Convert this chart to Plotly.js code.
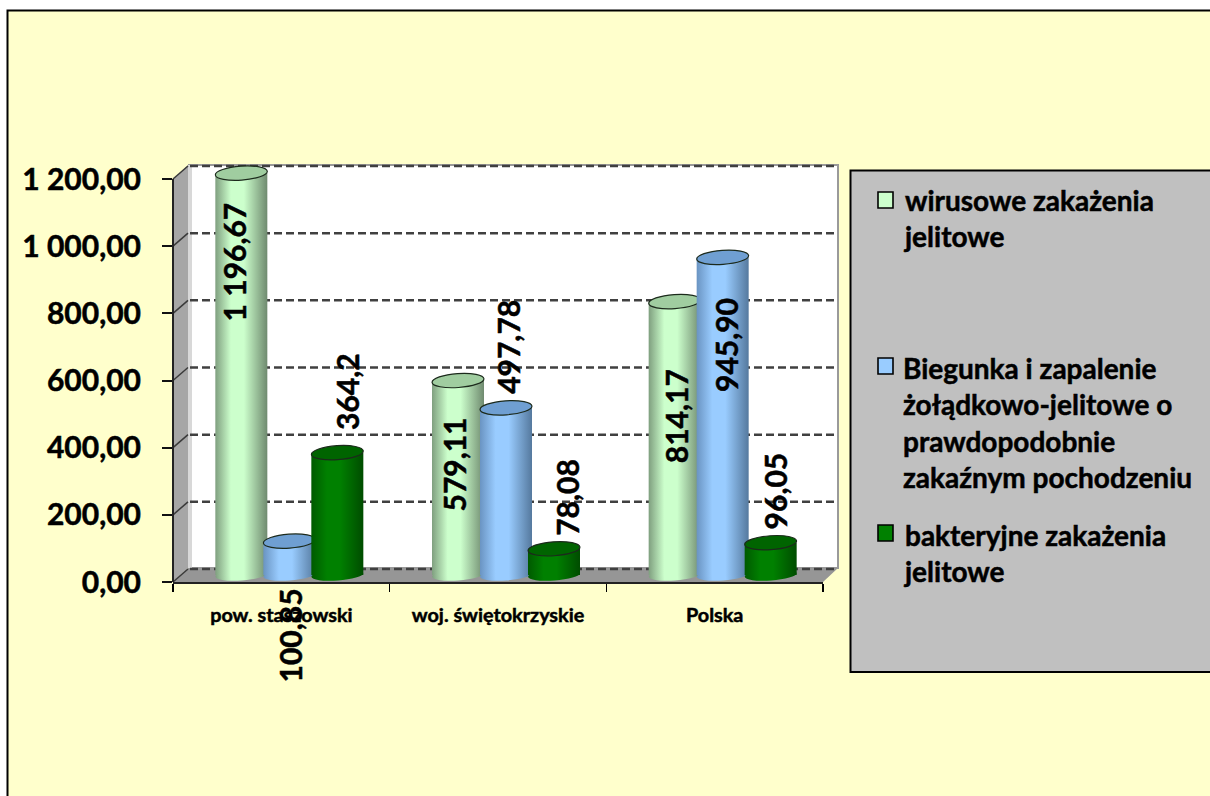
<!DOCTYPE html>
<html><head><meta charset="utf-8">
<script src="https://cdn.plot.ly/plotly-3.0.1.min.js"></script>
<style>html,body{margin:0;padding:0;background:#fff;overflow:hidden}</style>
</head><body><div id="chart" style="width:1210px;height:796px"></div>
<script>
var categories = ['pow. staszowski', 'woj. świętokrzyskie', 'Polska'];
var seriesNames = ['wirusowe zakażenia jelitowe', 'Biegunka i zapalenie żołądkowo-jelitowe o prawdopodobnie zakaźnym pochodzeniu', 'bakteryjne zakażenia jelitowe'];
var wirusowe = [1196.67, 579.11, 814.17];
var biegunka = [100.85, 497.78, 945.90];
var bakteryjne = [364.2, 78.08, 96.05];
var labelsWirusowe = ['1 196,67', '579,11', '814,17'];
var labelsBiegunka = ['100,85', '497,78', '945,90'];
var labelsBakteryjne = ['364,2', '78,08', '96,05'];
var legendText = ['wirusowe zakażenia<br>jelitowe', 'Biegunka i zapalenie<br>żołądkowo-jelitowe o<br>prawdopodobnie<br>zakaźnym pochodzeniu', 'bakteryjne zakażenia<br>jelitowe'];
var bodyColors = ['#ccffcc', '#99ccff', '#008000'];
var capColors = ['#a0cda0', '#6f9fd2', '#006400'];
var edgeColors = [['#7f9f7f', '#ccffcc', '#ccffcc', '#6f8a6f'], ['#6a94c2', '#99ccff', '#99ccff', '#55799e'], ['#005a00', '#008000', '#008000', '#004c00']];
var labelShift = [[[-7, 89], [-4, 84], [1, 115]], [[1, 94], [2, -61], [4, 88]], [[9, -61], [13, -51], [4, -52]]];

var W = 1210, H = 796;
var px = function (x) { return x / W; };
var py = function (y) { return 1 - y / H; };
var frontL = 173, frontR = 823, front0 = 582, front1200 = 179, backDX = 17, backDY = 14;
var pxPerUnit = (front0 - front1200) / 1200;
var groupPx = (frontR - frontL) / 3;
var barPx = 52, pitchPx = 48, depthX = 8, depthY = 7;
var yTicks = [0, 200, 400, 600, 800, 1000, 1200];
var allSeries = [wirusowe, biegunka, bakteryjne];
var allLabels = [labelsWirusowe, labelsBiegunka, labelsBakteryjne];

function center(s) { return ((s - 1) * pitchPx + depthX) / groupPx; }

var traces = [{ type: 'scatter', mode: 'none', x: categories, y: [0, 0, 0], yaxis: 'y', xaxis: 'x', showlegend: false, hoverinfo: 'skip' }].concat(allSeries.map(function (vals, s) {
  return {
    type: 'bar', x: categories, y: vals, yaxis: 'y3', name: seriesNames[s],
    width: barPx / groupPx, offset: center(s) - barPx / groupPx / 2,
    marker: { color: bodyColors[s], line: { width: 0 } }, hoverinfo: 'skip', cliponaxis: false
  };
}));

var bb = 'rgba(0,0,0,0)';
var shapes = [];
function poly(d, fill, line, lw) {
  shapes.push({ type: 'path', xref: 'paper', yref: 'paper', layer: 'below', path: d, fillcolor: fill, line: { color: line || bb, width: lw || 0 } });
}
function P(pts) { return 'M' + pts.map(function (p) { return px(p[0]) + ',' + py(p[1]); }).join('L') + 'Z'; }
function rect(x0, y0, x1, y1, fill, line, lw, layer) {
  shapes.push({ type: 'rect', xref: 'paper', yref: 'paper', layer: layer || 'below', x0: px(x0), x1: px(x1), y0: py(y1), y1: py(y0), fillcolor: fill, line: { color: line || bb, width: lw || 0 } });
}
function line(x0, y0, x1, y1, color, lw, dash) {
  shapes.push({ type: 'line', xref: 'paper', yref: 'paper', layer: 'below', x0: px(x0), x1: px(x1), y0: py(y0), y1: py(y1), line: { color: color, width: lw, dash: dash || 'solid' } });
}
// frame
rect(7.5, 10.5, 1240, 830, '#ffffcc', '#000000', 2);
// back wall, side wall, floor
var backL = frontL + backDX, backR = frontR + backDX - 2, backT = front1200 - backDY, backB = front0 - backDY;
rect(backL - 1, backT, backR, backB, '#ffffff', '#9a9a9a', 2);
poly(P([[frontL, front1200], [backL - 2, backT], [backL - 2, backB], [frontL, front0]]), '#a6a6a6');
rect(backL - 2, backT, backL + 2, backB, '#d8d8d8');
poly(P([[frontL, front0], [backL - 2, backB], [backR, backB], [frontR, front0]]), '#969696');
yTicks.forEach(function (t) {
  var yf = front0 - t * pxPerUnit, yb = yf - backDY;
  line(backL, yb + 1, backR, yb + 1, '#404040', 2.5, '8px,4px');
  line(frontL, yf, backL - 2, yb + 1, '#3a3a3a', 1.5);
});
line(frontL, front1200, frontL, front0, '#222222', 2);
// legend box and swatches
rect(850.5, 170.5, 1240, 672, '#c0c0c0', '#000000', 2);
[[192, 208], [358, 374], [525, 541]].forEach(function (r, s) {
  rect(878, r[0], 893, r[1], bodyColors[s], '#000000', 1.6);
});
// cylinder ends: base ellipse then top ellipse, per bar
var ellipseRefs = [];
allSeries.forEach(function (vals, s) {
  vals.forEach(function (v, i) {
    ellipseRefs.push([s, i, 'base', shapes.length]);
    shapes.push({ type: 'circle', xref: 'x', yref: 'y3', layer: 'above', xsizemode: 'pixel', ysizemode: 'pixel', xanchor: i + center(s), yanchor: 0, x0: -barPx / 2, x1: barPx / 2, y0: -5.5, y1: 5.5, fillcolor: bodyColors[s], line: { width: 0 } });
    ellipseRefs.push([s, i, 'top', shapes.length]);
    shapes.push({ type: 'circle', xref: 'x', yref: 'y3', layer: 'above', xsizemode: 'pixel', ysizemode: 'pixel', xanchor: i + center(s), yanchor: v, x0: -barPx / 2, x1: barPx / 2, y0: -depthY, y1: depthY, fillcolor: capColors[s], line: { color: '#1c2a1c', width: 1.2 } });
  });
});

var annotations = [];
allSeries.forEach(function (vals, s) {
  vals.forEach(function (v, i) {
    annotations.push({ xref: 'x', yref: 'y3', x: i + center(s), y: v, xanchor: 'center', yanchor: 'middle', xshift: labelShift[s][i][0], yshift: -labelShift[s][i][1], text: '<b>' + allLabels[s][i] + '</b>', textangle: -90, showarrow: false, font: { family: 'Lato, sans-serif', size: 30, color: '#000' } });
  });
});
[[217.5], [422.5], [552.5]].forEach(function (c, s) {
  annotations.push({ xref: 'paper', yref: 'paper', x: px(901), y: py(c[0]), xanchor: 'left', yanchor: 'middle', align: 'left', text: '<b>' + legendText[s].split('<br>').join('</b><br><b>') + '</b>', showarrow: false, font: { family: 'Lato, sans-serif', size: 28, color: '#000' } });
});

var layout = {
  width: W, height: H, margin: { l: 0, r: 0, t: 0, b: 0 }, paper_bgcolor: '#ffffff', plot_bgcolor: 'rgba(0,0,0,0)',
  showlegend: false, barmode: 'overlay', separators: ', ',
  xaxis: { domain: [px(frontL), px(frontR)], type: 'category', categoryorder: 'array', categoryarray: categories, range: [-0.5, 2.5], anchor: 'y', tickson: 'boundaries', ticks: 'outside', ticklen: 8, tickwidth: 1.5, tickcolor: '#000', showline: true, linecolor: '#222', linewidth: 2, showgrid: false, ticklabelstandoff: 14, tickfont: { family: 'Lato, sans-serif', size: 19.8, color: '#000', weight: 'bold' }, fixedrange: true },
  yaxis: { domain: [py(front0), py(front1200)], range: [0, 1200], anchor: 'x', tickvals: yTicks, tickformat: ',.2f', ticks: 'outside', ticklen: 10, tickwidth: 2, tickcolor: '#111', showline: false, showgrid: false, zeroline: false, ticklabelstandoff: 15, tickfont: { family: 'Lato, sans-serif', size: 30, color: '#000', weight: 'bold' }, fixedrange: true },
  yaxis3: { domain: [py(front0 + 14), py(front1200 - 39)], range: [(front0 - depthY - (front0 + 14)) / pxPerUnit, (front0 - depthY - (front1200 - 39)) / pxPerUnit], anchor: 'x', visible: false, fixedrange: true, showgrid: false, zeroline: false },
  shapes: shapes, annotations: annotations
};

var gd = document.getElementById('chart');
Plotly.newPlot(gd, traces, layout, { staticPlot: true, displayModeBar: false }).then(function () {
  var svg = gd.querySelector('svg.main-svg');
  var NS = 'http://www.w3.org/2000/svg';
  var defs = svg.querySelector('defs');
  edgeColors.forEach(function (c, s) {
    var g = document.createElementNS(NS, 'linearGradient');
    g.setAttribute('id', 'cyl' + s);
    [[0, c[0]], [0.3, c[1]], [0.55, c[2]], [1, c[3]]].forEach(function (st) {
      var e = document.createElementNS(NS, 'stop');
      e.setAttribute('offset', st[0]); e.setAttribute('stop-color', st[1]); g.appendChild(e);
    });
    defs.appendChild(g);
  });
  var l = gd._fullLayout.xaxis._offset, t = gd._fullLayout.yaxis3._offset;
  var groups = gd.querySelectorAll('.barlayer .trace.bars');
  var shapeLayer = gd.querySelector('.layer-above .shapelayer');
  ellipseRefs.forEach(function (r) {
    var s = r[0], i = r[1], kind = r[2], idx = r[3];
    var node = shapeLayer.querySelector('path[data-index="' + idx + '"]');
    var point = groups[s].querySelectorAll('.point')[i];
    var body = point.querySelector('path');
    body.style.fill = 'url(#cyl' + s + ')';
    if (!node) return;
    node.removeAttribute('clip-path');
    var bb = node.getBBox();
    var cx = bb.x + bb.width / 2, cy = bb.y + bb.height / 2;
    node.setAttribute('transform', 'translate(' + (-l) + ',' + (-t) + ') rotate(-4 ' + cx + ' ' + cy + ')');
    if (kind === 'base') { node.style.fill = 'url(#cyl' + s + ')'; node.style.fillOpacity = 1; point.insertBefore(node, body); }
    else { point.appendChild(node); }
  });
  Array.prototype.forEach.call(gd.querySelectorAll('.annotation text, .xtick text, .ytick text'), function (n) {
    n.style.stroke = '#000'; n.style.strokeWidth = '0.5px';
  });
});
</script></body></html>
